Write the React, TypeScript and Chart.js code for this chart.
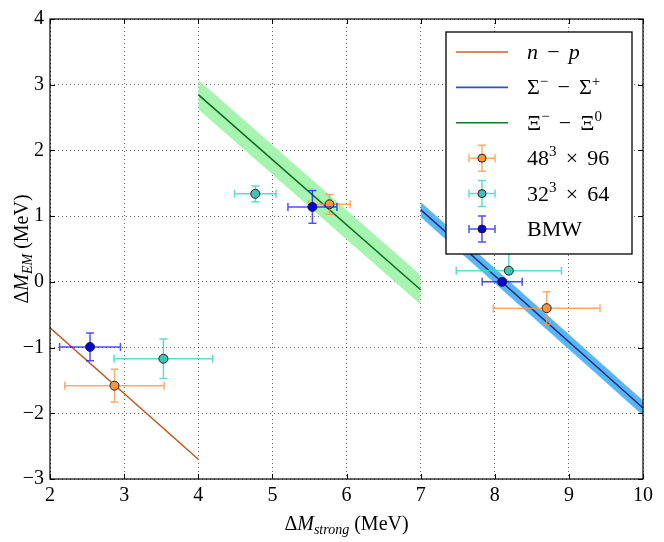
import React, { useEffect, useRef } from 'react';
import Chart from 'chart.js/auto';

const FONT = '"Liberation Serif", "DejaVu Serif", serif';

// tick values
const xTicks = [2, 3, 4, 5, 6, 7, 8, 9, 10];
const yTicks = [-3, -2, -1, 0, 1, 2, 3, 4];

// fitted lines (end points) and their band half widths
const npX = [2, 4];
const npY = [-0.70, -2.70];
const sigX = [7, 10];
const sigY = [1.10, -1.92];
const sigHalf = 0.11;
const xiX = [4, 7];
const xiY = [2.85, -0.12];
const xiHalf = 0.22;

// lattice points 48^3 x 96
const l48X = [2.87, 5.77, 8.70];
const l48Y = [-1.58, 1.18, -0.40];
const l48Xerr = [0.67, 0.28, 0.72];
const l48YerrLo = [0.25, 0.15, 0.25];
const l48YerrHi = [0.25, 0.15, 0.25];

// lattice points 32^3 x 64
const l32X = [3.53, 4.77, 8.19];
const l32Y = [-1.17, 1.34, 0.17];
const l32Xerr = [0.665, 0.28, 0.71];
const l32YerrLo = [0.30, 0.12, 0.0];
const l32YerrHi = [0.30, 0.12, 0.5];

// BMW
const bmwX = [2.54, 5.54, 8.10];
const bmwY = [-0.99, 1.14, 0.00];
const bmwXerr = [0.41, 0.33, 0.27];
const bmwYerr = [0.21, 0.25, 0.03];

type Seg = { t: string; it?: boolean; sup?: boolean; sub?: boolean };

function segFont(s: Seg, size: number) {
    const sz = s.sup || s.sub ? Math.round(size * 0.7) : size;
    return `${s.it ? 'italic ' : ''}${sz}px ${FONT}`;
}

function drawRich(ctx: CanvasRenderingContext2D, segs: Seg[], x: number, y: number, size: number, align: 'left' | 'center') {
    ctx.textBaseline = 'alphabetic';
    ctx.textAlign = 'left';
    let total = 0;
    segs.forEach(s => {
        ctx.font = segFont(s, size);
        total += ctx.measureText(s.t).width;
    });
    let cx = align === 'center' ? x - total / 2 : x;
    segs.forEach(s => {
        ctx.font = segFont(s, size);
        const dy = s.sup ? -size * 0.4 : s.sub ? size * 0.22 : 0;
        ctx.fillText(s.t, cx, y + dy);
        cx += ctx.measureText(s.t).width;
    });
}

function drawErrorBar(ctx: CanvasRenderingContext2D, px: number, py: number, x0: number, x1: number, y0: number, y1: number, color: string) {
    const cap = 4;
    ctx.strokeStyle = color;
    ctx.lineWidth = 1.5;
    ctx.beginPath();
    ctx.moveTo(x0, py); ctx.lineTo(x1, py);
    ctx.moveTo(x0, py - cap); ctx.lineTo(x0, py + cap);
    ctx.moveTo(x1, py - cap); ctx.lineTo(x1, py + cap);
    if (Math.abs(y1 - y0) > 0.5) {
        ctx.moveTo(px, y0); ctx.lineTo(px, y1);
        if (Math.abs(y0 - py) > 0.5) { ctx.moveTo(px - cap, y0); ctx.lineTo(px + cap, y0); }
        if (Math.abs(y1 - py) > 0.5) { ctx.moveTo(px - cap, y1); ctx.lineTo(px + cap, y1); }
    }
    ctx.stroke();
}

const pts = (xs: number[], ys: number[]) => xs.map((x, i) => ({ x, y: ys[i] }));
const shift = (ys: number[], d: number) => ys.map(v => v + d);
const fmt = (v: number) => String(v).replace('-', '\u2212');

const errSets: Record<string, { xerr: number[]; lo: number[]; hi: number[]; color: string }> = {
    bmw: { xerr: bmwXerr, lo: bmwYerr, hi: bmwYerr, color: 'rgba(20,20,255,0.75)' },
    l32: { xerr: l32Xerr, lo: l32YerrLo, hi: l32YerrHi, color: 'rgba(70,210,200,0.85)' },
    l48: { xerr: l48Xerr, lo: l48YerrLo, hi: l48YerrHi, color: 'rgba(255,150,70,0.8)' },
};

const OP = ' \u2006';
const legendRows: { segs: Seg[]; kind: 'line' | 'err'; color: string; fill?: string }[] = [
    { segs: [{ t: 'n', it: true }, { t: `${OP}\u2212${OP}` }, { t: 'p', it: true }], kind: 'line', color: '#c8642e' },
    { segs: [{ t: '\u03a3' }, { t: '\u2212', sup: true }, { t: `${OP}\u2212${OP}` }, { t: '\u03a3' }, { t: '+', sup: true }], kind: 'line', color: '#2a52c8' },
    { segs: [{ t: '\u039e' }, { t: '\u2212', sup: true }, { t: `${OP}\u2212${OP}` }, { t: '\u039e' }, { t: '0', sup: true }], kind: 'line', color: '#137a1e' },
    { segs: [{ t: '48' }, { t: '3', sup: true }, { t: `${OP}\u00d7${OP}96` }], kind: 'err', color: errSets.l48.color, fill: '#ff9438' },
    { segs: [{ t: '32' }, { t: '3', sup: true }, { t: `${OP}\u00d7${OP}64` }], kind: 'err', color: errSets.l32.color, fill: '#3cc4b8' },
    { segs: [{ t: 'BMW' }], kind: 'err', color: errSets.bmw.color, fill: '#0000e6' },
];

const overlay = {
    id: 'overlay',
    beforeDatasetDraw(chart: any, args: any) {
        const ds = chart.data.datasets[args.index];
        const e = errSets[ds.errKey];
        if (!e) return;
        const { ctx } = chart;
        const xs = chart.scales.x;
        const ys = chart.scales.y;
        ctx.save();
        ds.data.forEach((p: { x: number; y: number }, i: number) => {
            drawErrorBar(ctx,
                xs.getPixelForValue(p.x), ys.getPixelForValue(p.y),
                xs.getPixelForValue(p.x - e.xerr[i]), xs.getPixelForValue(p.x + e.xerr[i]),
                ys.getPixelForValue(p.y - e.lo[i]), ys.getPixelForValue(p.y + e.hi[i]),
                e.color);
        });
        ctx.restore();
    },
    afterDraw(chart: any) {
        const { ctx, chartArea: a } = chart;
        const xs = chart.scales.x;
        const ys = chart.scales.y;
        ctx.save();
        // frame
        ctx.strokeStyle = '#000';
        ctx.lineWidth = 1.2;
        ctx.strokeRect(a.left, a.top, a.right - a.left, a.bottom - a.top);
        // inward ticks
        ctx.lineWidth = 1;
        ctx.beginPath();
        xTicks.forEach(v => {
            const px = Math.round(xs.getPixelForValue(v)) + 0.5;
            ctx.moveTo(px, a.bottom); ctx.lineTo(px, a.bottom - 5);
            ctx.moveTo(px, a.top); ctx.lineTo(px, a.top + 5);
        });
        yTicks.forEach(v => {
            const py = Math.round(ys.getPixelForValue(v)) + 0.5;
            ctx.moveTo(a.left, py); ctx.lineTo(a.left + 5, py);
            ctx.moveTo(a.right, py); ctx.lineTo(a.right - 5, py);
        });
        ctx.stroke();
        // axis titles
        ctx.fillStyle = '#000';
        drawRich(ctx, [{ t: '\u0394' }, { t: 'M', it: true }, { t: 'strong', it: true, sub: true }, { t: ' (MeV)' }],
            (a.left + a.right) / 2, 530, 20, 'center');
        ctx.save();
        ctx.translate(28, (a.top + a.bottom) / 2);
        ctx.rotate(-Math.PI / 2);
        drawRich(ctx, [{ t: '\u0394' }, { t: 'M', it: true }, { t: 'EM', it: true, sub: true }, { t: ' (MeV)' }], 0, 0, 20, 'center');
        ctx.restore();
        // legend
        const bx = 446, by = 32, bw = 186, bh = 222;
        ctx.fillStyle = '#fff';
        ctx.fillRect(bx, by, bw, bh);
        ctx.strokeStyle = '#000';
        ctx.lineWidth = 1.3;
        ctx.strokeRect(bx, by, bw, bh);
        legendRows.forEach((r, i) => {
            const y = 52 + i * 35.4;
            if (r.kind === 'line') {
                ctx.strokeStyle = r.color;
                ctx.lineWidth = 1.6;
                ctx.beginPath();
                ctx.moveTo(456, y); ctx.lineTo(508, y);
                ctx.stroke();
            } else {
                const cx = 482;
                drawErrorBar(ctx, cx, y, cx - 13, cx + 13, y + 13, y - 13, r.color);
                ctx.beginPath();
                ctx.arc(cx, y, 4, 0, Math.PI * 2);
                ctx.fillStyle = r.fill;
                ctx.fill();
                ctx.strokeStyle = '#222';
                ctx.lineWidth = 1;
                ctx.stroke();
            }
            ctx.fillStyle = '#000';
            drawRich(ctx, r.segs, 527, y + 7, 22, 'left');
        });
        ctx.restore();
    },
};

function App() {
    const canvasRef = useRef<HTMLCanvasElement>(null);

    useEffect(() => {
        document.body.style.margin = '0';
        const canvas = canvasRef.current;
        if (!canvas) return;
        const ctx = canvas.getContext('2d');
        if (!ctx) return;

        const lineDs = (data: { x: number; y: number }[], color: string) => ({
            data, showLine: true, borderColor: color, borderWidth: 1.5, pointRadius: 0, fill: false,
        });
        const bandDs = (data: { x: number; y: number }[], color: string, fill: any) => ({
            data, showLine: true, borderColor: color, backgroundColor: color, borderWidth: 0.5, pointRadius: 0, fill,
        });
        const pointDs = (data: { x: number; y: number }[], key: string, color: string) => ({
            data, errKey: key, showLine: false, pointRadius: 4.5, pointBackgroundColor: color,
            pointBorderColor: '#222', pointBorderWidth: 1,
        });

        const chart = new Chart(ctx, {
            type: 'scatter',
            data: {
                datasets: [
                    pointDs(pts(bmwX, bmwY), 'bmw', '#0000e6'),
                    pointDs(pts(l32X, l32Y), 'l32', '#3cc4b8'),
                    pointDs(pts(l48X, l48Y), 'l48', '#ff9438'),
                    lineDs(pts(npX, npY), '#c4541a'),
                    lineDs(pts(sigX, sigY), '#1e2f8a'),
                    lineDs(pts(xiX, xiY), '#0b6a1a'),
                    bandDs(pts(sigX, shift(sigY, sigHalf)), '#5ab6f2', '+1'),
                    bandDs(pts(sigX, shift(sigY, -sigHalf)), '#5ab6f2', false),
                    bandDs(pts(xiX, shift(xiY, xiHalf)), '#a6f4b0', '+1'),
                    bandDs(pts(xiX, shift(xiY, -xiHalf)), '#a6f4b0', false),
                ] as any,
            },
            options: {
                animation: false,
                responsive: false,
                events: [],
                layout: { padding: { left: 0, top: 19, right: 21, bottom: 0 } },
                plugins: { legend: { display: false }, tooltip: { enabled: false } },
                scales: {
                    x: {
                        type: 'linear', min: 2, max: 10,
                        afterBuildTicks: (s: any) => { s.ticks = xTicks.map(v => ({ value: v })); },
                        afterFit: (s: any) => { s.height = 63; },
                        grid: { color: 'rgba(0,0,0,0.6)', lineWidth: 1, drawTicks: false },
                        border: { display: false, dash: [1, 3] },
                        ticks: { padding: 5, color: '#000', font: { family: FONT, size: 20 }, callback: (v: any) => fmt(v) },
                    },
                    y: {
                        type: 'linear', min: -3, max: 4,
                        afterBuildTicks: (s: any) => { s.ticks = yTicks.map(v => ({ value: v })); },
                        afterFit: (s: any) => { s.width = 50; },
                        grid: { color: 'rgba(0,0,0,0.6)', lineWidth: 1, drawTicks: false },
                        border: { display: false, dash: [1, 3] },
                        ticks: { padding: 6, color: '#000', font: { family: FONT, size: 20 }, callback: (v: any) => fmt(v) },
                    },
                },
            } as any,
            plugins: [overlay],
        });

        return () => {
            chart.destroy();
        };
    }, []);

    return (
        <div style={{ width: 664, height: 542 }}>
            <canvas ref={canvasRef} width={664} height={542}></canvas>
        </div>
    );
}

export default App;
